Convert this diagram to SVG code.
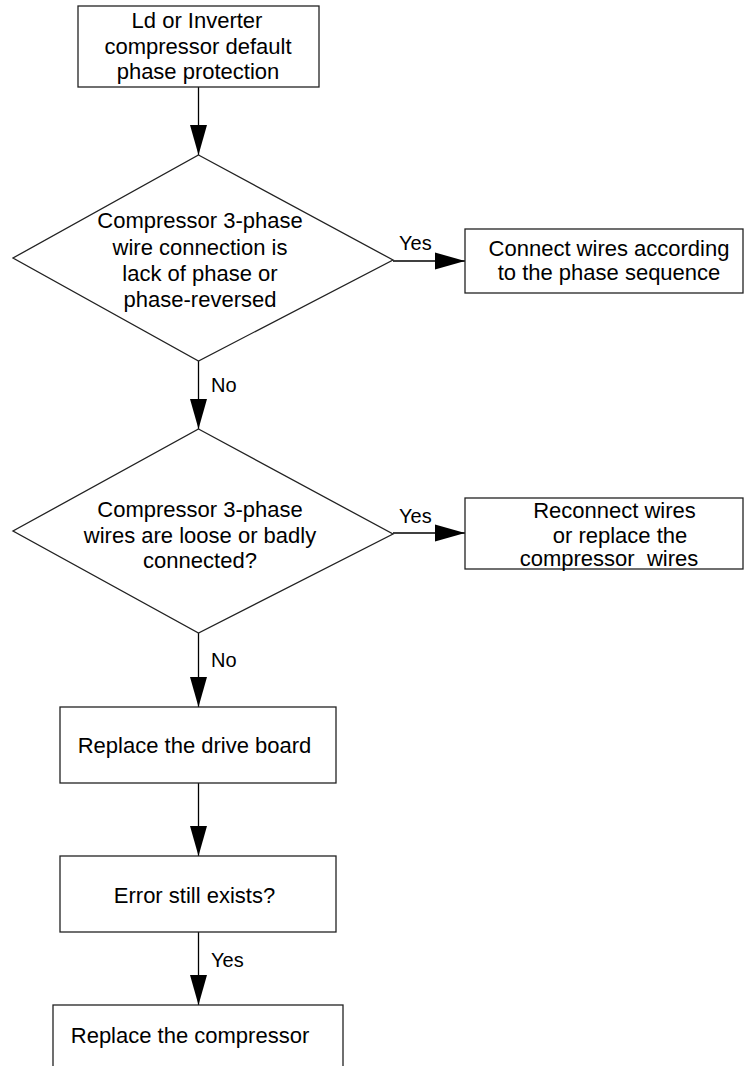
<svg xmlns="http://www.w3.org/2000/svg" width="744" height="1066" viewBox="0 0 744 1066">
  <style>
    .shape { fill: #ffffff; stroke: #222222; stroke-width: 1.3; }
    .conn { fill: none; stroke: #000000; stroke-width: 1.3; }
    .t { font-family: "Liberation Sans", Arial, sans-serif; font-size: 22px; fill: #000000; text-anchor: middle; }
    .lbl { font-family: "Liberation Sans", Arial, sans-serif; font-size: 20px; fill: #000000; }
  </style>
  <defs>
    <marker id="arrow" markerUnits="userSpaceOnUse" markerWidth="30" markerHeight="18" refX="30" refY="9" orient="auto">
      <polygon points="0,0.5 30,9 0,17.5" fill="#000000"/>
    </marker>
  </defs>
  <rect width="744" height="1066" fill="#ffffff"/>

  <g id="connectors">
    <line class="conn" x1="198.5" y1="87" x2="198.5" y2="155" marker-end="url(#arrow)"/>
    <line class="conn" x1="393" y1="261" x2="465" y2="261" marker-end="url(#arrow)"/>
    <line class="conn" x1="198.5" y1="361" x2="198.5" y2="429" marker-end="url(#arrow)"/>
    <line class="conn" x1="393" y1="533" x2="465" y2="533" marker-end="url(#arrow)"/>
    <line class="conn" x1="198.5" y1="633" x2="198.5" y2="707" marker-end="url(#arrow)"/>
    <line class="conn" x1="198.5" y1="783" x2="198.5" y2="856" marker-end="url(#arrow)"/>
    <line class="conn" x1="198.5" y1="932" x2="198.5" y2="1005" marker-end="url(#arrow)"/>
    <text class="lbl" x="399" y="250">Yes</text>
    <text class="lbl" x="211" y="392">No</text>
    <text class="lbl" x="399" y="523">Yes</text>
    <text class="lbl" x="211" y="667">No</text>
    <text class="lbl" x="211" y="967">Yes</text>
  </g>

  <g id="start">
    <rect class="shape" x="78" y="6" width="241" height="81"/>
    <text class="t" x="197" y="28">Ld or Inverter</text>
    <text class="t" x="198" y="54">compressor default</text>
    <text class="t" x="198" y="79">phase protection</text>
  </g>

  <g id="decision1">
    <polygon class="shape" points="198.5,155 393,260 198.5,361 13,258"/>
    <text class="t" x="200" y="228">Compressor 3-phase</text>
    <text class="t" x="200" y="255">wire connection is</text>
    <text class="t" x="200" y="281">lack of phase or</text>
    <text class="t" x="200" y="307">phase-reversed</text>
  </g>

  <g id="connect-wires">
    <rect class="shape" x="465" y="229" width="278" height="64"/>
    <text class="t" x="609" y="256">Connect wires according</text>
    <text class="t" x="609" y="280">to the phase sequence</text>
  </g>

  <g id="decision2">
    <polygon class="shape" points="198.5,429 393,534 198.5,633 13,531"/>
    <text class="t" x="200" y="517">Compressor 3-phase</text>
    <text class="t" x="200" y="543">wires are loose or badly</text>
    <text class="t" x="200" y="568">connected?</text>
  </g>

  <g id="reconnect-wires">
    <rect class="shape" x="465" y="498" width="278" height="71"/>
    <text class="t" x="614.5" y="518">Reconnect wires</text>
    <text class="t" x="620" y="543">or replace the</text>
    <text class="t" x="609" y="566" xml:space="preserve" style="white-space: pre">compressor  wires</text>
  </g>

  <g id="replace-board">
    <rect class="shape" x="60" y="707" width="276" height="76"/>
    <text class="t" x="194.5" y="753">Replace the drive board</text>
  </g>

  <g id="error-exists">
    <rect class="shape" x="60" y="856" width="276" height="76"/>
    <text class="t" x="194.5" y="903">Error still exists?</text>
  </g>

  <g id="replace-compressor">
    <rect class="shape" x="53" y="1005" width="290" height="80"/>
    <text class="t" x="190" y="1043">Replace the compressor</text>
  </g>
</svg>
